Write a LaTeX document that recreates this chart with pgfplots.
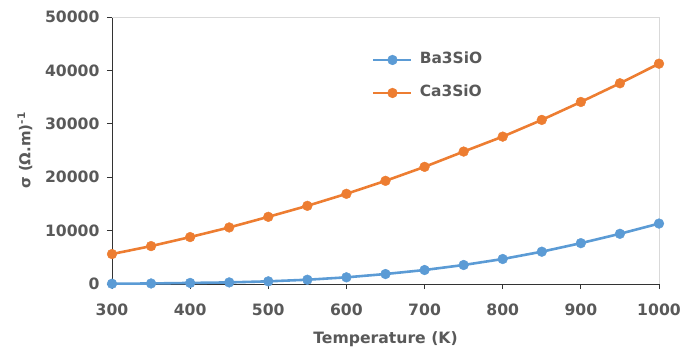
\documentclass[border=0pt]{standalone}
\usepackage{pgfplots}
\pgfplotsset{compat=1.18}
\usepackage{fontspec}
\setmainfont{DejaVu Sans}
\definecolor{txt}{HTML}{595959}
\definecolor{cblue}{HTML}{5B9BD5}
\definecolor{corange}{HTML}{ED7D31}
\begin{document}
\begin{tikzpicture}[x=1bp,y=1bp]
\useasboundingbox (-112,-67) rectangle (582,284);
\begin{axis}[
  at={(0,0)}, anchor=south west,
  scale only axis, width=547bp, height=267bp,
  xmin=300, xmax=1000, ymin=0, ymax=50000,
  xtick={300,400,...,1000}, ytick={0,10000,...,50000},
  scaled y ticks=false,
  /pgf/number format/assume math mode=true,
  /pgf/number format/1000 sep={},
  axis lines=left,
  axis line style={-, black!80, line width=0.8pt},
  tick align=outside,
  major tick length=5bp,
  tick style={black!80, line width=0.8pt},
  tick label style={font=\fontsize{15.7}{19}\selectfont\bfseries, text=txt},
  xticklabel style={yshift=-11bp},
  yticklabel style={xshift=-4bp},
  xlabel={Temperature (K)},
  ylabel={σ (Ω.m)\textsuperscript{-1}},
  every axis x label/.style={at={(rel axis cs:0.5,0)}, yshift=-55bp, anchor=center, font=\fontsize{15.7}{19}\selectfont\bfseries, text=txt},
  every axis y label/.style={at={(rel axis cs:0,0.5)}, xshift=-87bp, rotate=90, anchor=center, font=\fontsize{15}{18}\selectfont\bfseries, text=txt},
  clip=false,
  legend style={at={(axis description cs:0.4753,0.866)}, anchor=north west, draw=none, fill=none, inner sep=0pt,
    row sep=19bp, font=\fontsize{15.5}{19}\selectfont\bfseries, text=txt,
    nodes={inner sep=0pt, text height=11bp, text depth=3bp}},
  legend cell align=left,
  legend image code/.code={\draw[mark repeat=2, mark phase=2] plot coordinates {(0bp,0bp) (19bp,0bp) (38bp,0bp)};},
  /tikz/every odd column/.append style={column sep=7bp},
]
\draw[black!15, line width=0.8pt] (rel axis cs:0,1) -- (rel axis cs:1,1) -- (rel axis cs:1,0);
\addplot[cblue, line width=2.6pt, mark=*, mark size=4.9bp, mark options={solid, fill=cblue, draw=cblue, line width=0.4pt}] coordinates {
(300,50) (350,100) (400,200) (450,300) (500,500) (550,800) (600,1250) (650,1870) (700,2620) (750,3560) (800,4680) (850,6050) (900,7650) (950,9400) (1000,11320)
};
\addlegendentry{Ba3SiO}
\addplot[corange, line width=2.6pt, mark=*, mark size=4.9bp, mark options={solid, fill=corange, draw=corange, line width=0.4pt}] coordinates {
(300,5610) (350,7100) (400,8790) (450,10590) (500,12580) (550,14640) (600,16890) (650,19320) (700,21940) (750,24800) (800,27600) (850,30730) (900,34090) (950,37590) (1000,41260)
};
\addlegendentry{Ca3SiO}
\end{axis}
\end{tikzpicture}
\end{document}
